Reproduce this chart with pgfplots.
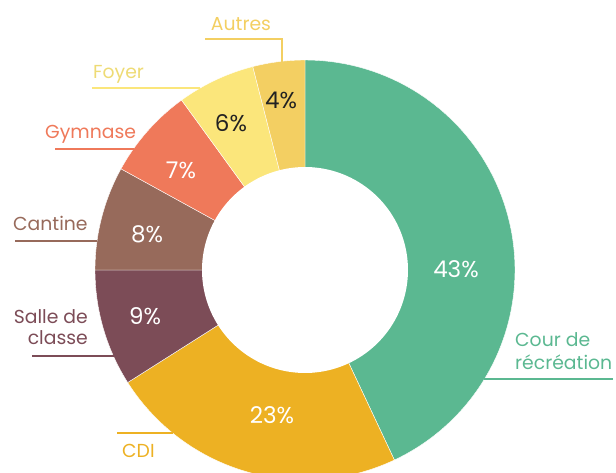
\documentclass[border=0pt]{standalone}
\usepackage{pgfplots}
\pgfplotsset{compat=1.18}
\usepackage{fontspec}
\setmainfont{Poppins}
\definecolor{cgreen}{HTML}{5BB891}
\definecolor{cyellow}{HTML}{EDB123}
\definecolor{cmaroon}{HTML}{7C4C57}
\definecolor{cbrown}{HTML}{976A5B}
\definecolor{ccoral}{HTML}{EF795A}
\definecolor{clight}{HTML}{FBE67B}
\definecolor{cgold}{HTML}{F3CF62}
\definecolor{cdark}{HTML}{222222}
\tikzset{pct/.style={font=\fontsize{23}{26}\selectfont},
         lab/.style={font=\fontsize{18.8}{22}\selectfont, inner sep=0pt}}
\begin{document}
\begin{tikzpicture}
\begin{axis}[x=1pt, y=1pt, xmin=-305, xmax=311, ymin=-202, ymax=270,
  hide axis, clip mode=individual]
\gdef\cum{0}
\foreach \v/\c in {43/cgreen,23/cyellow,9/cmaroon,8/cbrown,7/ccoral,6/clight,4/cgold}{
  \pgfmathsetmacro\a{90-3.6*\cum}
  \pgfmathsetmacro\b{90-3.6*(\cum+\v)}
  \edef\temp{\noexpand\addplot[fill=\c, draw=white, line width=0.4pt, domain=\b:\a, samples=90] ({210*cos(x)},{210*sin(x)}) -- (axis cs:0,0) -- cycle;}
  \temp
  \pgfmathsetmacro\n{\cum+\v}
  \xdef\cum{\n}
}
\addplot[fill=white, draw=none, domain=0:360, samples=160] ({103*cos(x)},{103*sin(x)}) -- cycle;
% percentages
\node[pct, text=white] at (axis cs:151,1) {43\%};
\node[pct, text=white] at (axis cs:-33,-145) {23\%};
\node[pct, text=white] at (axis cs:-160,-46) {9\%};
\node[pct, text=white] at (axis cs:-158,36) {8\%};
\node[pct, text=white] at (axis cs:-124,100) {7\%};
\node[pct, text=cdark] at (axis cs:-74,147) {6\%};
\node[pct, text=cdark] at (axis cs:-24,170) {4\%};
% leader lines
\draw[cgold, line width=1.3pt] (axis cs:-100,231) -- (axis cs:-23,231) -- (axis cs:-23,208);
\draw[clight, line width=1.3pt] (axis cs:-213,182) -- (axis cs:-105,182);
\draw[ccoral, line width=1.3pt] (axis cs:-250,121) -- (axis cs:-171,121);
\draw[cbrown, line width=1.3pt] (axis cs:-290,29) -- (axis cs:-208,29);
\draw[cmaroon, line width=1.3pt] (axis cs:-273,-86) -- (axis cs:-191,-86);
\draw[cyellow, line width=1.3pt] (axis cs:-188,-163) -- (axis cs:-132,-163);
\draw[cgreen, line width=1.3pt] (axis cs:179,-109) -- (axis cs:308,-109);
% labels
\node[lab, text=cgold, anchor=base] at (axis cs:-64,239) {Autres};
\node[lab, text=clight!95!black, anchor=base west] at (axis cs:-212,191) {Foyer};
\node[lab, text=ccoral, anchor=base west] at (axis cs:-260,131) {Gymnase};
\node[lab, text=cbrown, anchor=base west] at (axis cs:-292,39) {Cantine};
\node[lab, text=cmaroon, anchor=base east] at (axis cs:-217,-53) {Salle de};
\node[lab, text=cmaroon, anchor=base east] at (axis cs:-217,-74) {classe};
\node[lab, text=cyellow, anchor=base west] at (axis cs:-183,-187) {CDI};
\node[lab, text=cgreen, anchor=base west] at (axis cs:210,-76) {Cour de};
\node[lab, text=cgreen, anchor=base west] at (axis cs:210,-99) {récréation};
\coordinate (ll) at (axis cs:-305,-202);
\coordinate (ur) at (axis cs:311,270);
\end{axis}
\pgfresetboundingbox
\useasboundingbox (ll) rectangle (ur);
\end{tikzpicture}
\end{document}
